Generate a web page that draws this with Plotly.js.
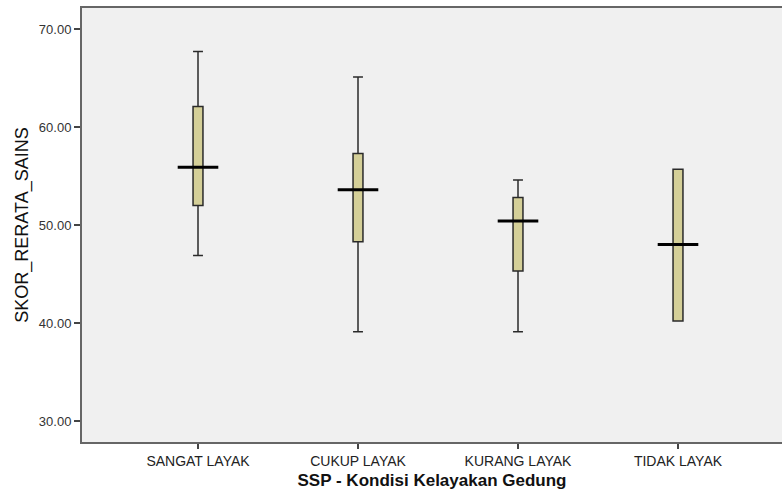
<!DOCTYPE html>
<html>
<head>
<meta charset="utf-8">
<script src="https://cdn.plot.ly/plotly-3.0.1.min.js"></script>
<style>html,body{margin:0;padding:0;background:#fff;}#chart{width:782px;height:493px;}</style>
</head>
<body>
<div id="chart"></div>
<script>
var categories = ["SANGAT LAYAK", "CUKUP LAYAK", "KURANG LAYAK", "TIDAK LAYAK"];
var minValues = [46.9, 39.1, 39.1, 40.2];
var q1Values = [52.0, 48.3, 45.3, 40.2];
var medianValues = [55.9, 53.6, 50.4, 48.0];
var q3Values = [62.1, 57.3, 52.8, 55.7];
var maxValues = [67.7, 65.1, 54.6, 55.7];
var yTickValues = [30, 40, 50, 60, 70];
var yTickLabels = ["30.00", "40.00", "50.00", "60.00", "70.00"];

var boxTrace = {
  type: "box",
  x: categories,
  q1: q1Values,
  median: medianValues,
  q3: q3Values,
  lowerfence: minValues,
  upperfence: maxValues,
  width: 0.062,
  whiskerwidth: 1,
  fillcolor: "#d4cf98",
  line: {color: "#2a2a2a", width: 1.5},
  boxpoints: false,
  hoverinfo: "skip",
  showlegend: false
};

var medianTrace = {
  type: "scatter",
  mode: "markers",
  x: categories,
  y: medianValues,
  marker: {symbol: "line-ew", size: 29, color: "#000", line: {color: "#000", width: 3}},
  hoverinfo: "skip",
  showlegend: false
};

var layout = {
  width: 782, height: 493,
  margin: {l: 82, r: 0, t: 8, b: 51},
  paper_bgcolor: "#ffffff",
  plot_bgcolor: "#f0f0f0",
  font: {family: "Liberation Sans, Arial, sans-serif", color: "#222"},
  xaxis: {
    type: "category",
    range: [-0.725, 3.65],
    showgrid: false, zeroline: false,
    showline: true, linecolor: "#666", linewidth: 2, mirror: true,
    ticks: "outside", ticklen: 5, tickwidth: 1.5, tickcolor: "#444",
    tickfont: {size: 14, color: "#222"},
    title: {text: "SSP - Kondisi Kelayakan Gedung", font: {size: 17, color: "#111", weight: "bold"}, standoff: 6}
  },
  yaxis: {
    range: [27.86, 72.14],
    tickvals: yTickValues, ticktext: yTickLabels,
    showgrid: false, zeroline: false,
    showline: true, linecolor: "#666", linewidth: 2,
    ticks: "outside", ticklen: 6, tickwidth: 1.5, tickcolor: "#444",
    tickfont: {size: 13, color: "#333"},
    title: {text: "SKOR_RERATA_SAINS", font: {size: 18, color: "#111"}, standoff: 6}
  }
};

Plotly.newPlot("chart", [boxTrace, medianTrace], layout, {staticPlot: true, displayModeBar: false});
</script>
</body>
</html>
